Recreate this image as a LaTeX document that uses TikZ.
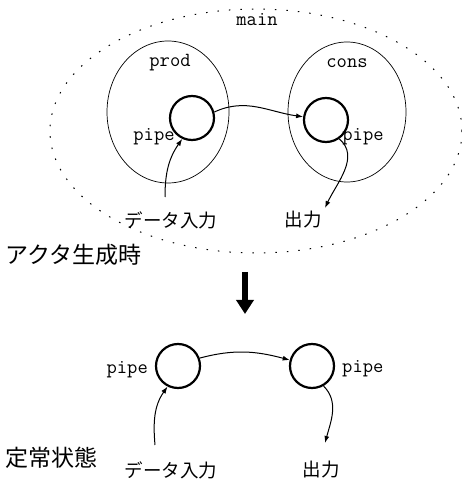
\documentclass[tikz,border=0pt]{standalone}
\usepackage{fontspec}
\newfontfamily\jp{Noto Sans CJK JP}
\usetikzlibrary{arrows.meta}
\begin{document}
\begin{tikzpicture}[x=1pt,y=1pt,
  pipec/.style={circle,draw,line width=2.2pt,minimum size=44pt,inner sep=0pt},
  lbl/.style={font=\ttfamily\fontsize{20}{20}\selectfont,inner sep=0pt},
  jps/.style={font=\jp\fontsize{18.5}{18.5}\selectfont,inner sep=0pt},
  jpb/.style={font=\jp\fontsize{23}{23}\selectfont,inner sep=0pt,anchor=west},
  conn/.style={line width=1pt,-{Latex[length=7pt,width=5pt]}},
  actor/.style={draw,line width=0.7pt}]
\useasboundingbox (0,0) rectangle (462,480);
% top: actor creation
\draw[line width=1pt,dash pattern=on 1.5pt off 10pt] (256,349) ellipse [x radius=206,y radius=122];
\draw[actor] (168,368) ellipse [x radius=61,y radius=71];
\draw[actor] (347,368) ellipse [x radius=59,y radius=70];
\node[lbl] (mainl) at (257,460) {main};
\node[lbl] (prodl) at (170,417) {prod};
\node[lbl] (consl) at (347,417) {cons};
\node[pipec] (pA) at (192,362) {};
\node[pipec] (pB) at (326,360) {};
\node[lbl] (pAl) at (154,343) {pipe};
\node[lbl] (pBl) at (363,343) {pipe};
\node[jps] (inA) at (171,260) {データ入力};
\node[jps] (outA) at (303,260) {出力};
\coordinate (inAs) at (165,283);
\coordinate (outAe) at (325,272);
\draw[conn] (pA.15) to[out=25,in=172] (pB.172);
\draw[conn] (inAs) to[out=90,in=235] (pA.245);
\draw[conn] (pB.-55) to[out=-40,in=65] (outAe);
\node[jpb] (t1) at (5,225) {アクタ生成時};
% transition arrow
\coordinate (da) at (245,208);
\coordinate (db) at (245,166);
\draw[line width=6pt,-{Triangle[length=14pt,width=17pt]}] (da) -- (db);
% bottom: steady state
\node[pipec] (qA) at (178,114) {};
\node[pipec] (qB) at (312,114) {};
\node[lbl,anchor=east] (qAl) at (148,110) {pipe};
\node[lbl,anchor=west] (qBl) at (342,111) {pipe};
\coordinate (inBs) at (155,35);
\coordinate (outBe) at (325,37);
\draw[conn] (qA.20) to[out=15,in=165] (qB.165);
\draw[conn] (inBs) to[out=95,in=235] (qA.243);
\draw[conn] (qB.-60) to[out=-45,in=75] (outBe);
\node[jpb] (t2) at (5,22) {定常状態};
\node[jps] (inB) at (171,10) {データ入力};
\node[jps] (outB) at (321,10) {出力};
\end{tikzpicture}
\end{document}
